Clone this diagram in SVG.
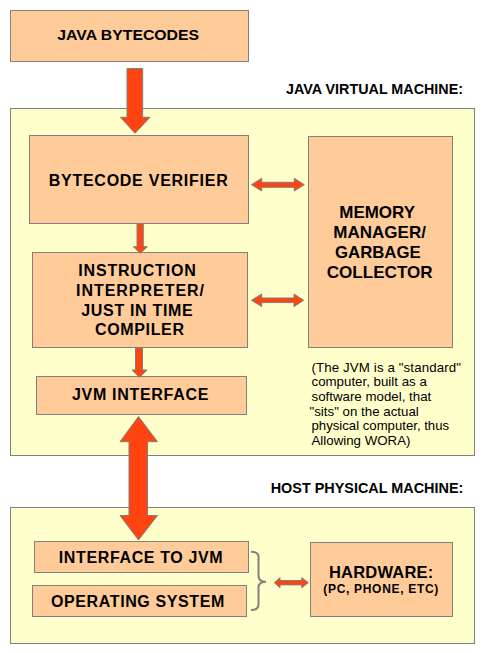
<svg xmlns="http://www.w3.org/2000/svg" width="484" height="653" viewBox="0 0 484 653">
<style>
.outer{fill:#FFFFCC;stroke:#808080;stroke-width:1}
.box{fill:#FFCC99;stroke:#808080;stroke-width:1}
.arr{fill:#FF4411;stroke:#7F7F7F;stroke-width:1;stroke-linejoin:miter}
.brace{fill:none;stroke:#808080;stroke-width:2}
text{font-family:"Liberation Sans",Arial,sans-serif;fill:#000}
.b{font-weight:bold;font-size:16px}
.h{font-weight:bold;font-size:14px}
.m{font-weight:bold;font-size:17px}
.n{font-size:13.3px}
.s{font-weight:bold;font-size:12px}
</style>
<rect width="484" height="653" fill="#FFFFFF"/>
<g id="jvm-container">
<rect class="outer" x="10.5" y="108.5" width="464" height="347"/>
<text class="h" x="286" y="93.5" textLength="177" lengthAdjust="spacingAndGlyphs">JAVA VIRTUAL MACHINE:</text>
</g>
<g id="host-container">
<rect class="outer" x="10.5" y="507.5" width="464" height="136"/>
<text class="h" x="270.7" y="493.3" textLength="192.6" lengthAdjust="spacingAndGlyphs">HOST PHYSICAL MACHINE:</text>
</g>
<g id="java-bytecodes">
<rect class="box" x="10.5" y="10.5" width="238" height="51"/>
<text class="b" style="font-size:15px" x="57.3" y="40.3" textLength="141.7" lengthAdjust="spacingAndGlyphs">JAVA BYTECODES</text>
</g>
<g id="bytecode-verifier">
<rect class="box" x="29.5" y="135.5" width="219" height="88"/>
<text class="b" x="48.7" y="185.7" textLength="179" lengthAdjust="spacing">BYTECODE VERIFIER</text>
</g>
<g id="memory-manager">
<rect class="box" x="308.5" y="136.5" width="144" height="211"/>
<text class="m" x="339.3" y="218.3" textLength="75.7" lengthAdjust="spacingAndGlyphs">MEMORY</text>
<text class="m" x="333.3" y="238.3" textLength="92.7" lengthAdjust="spacingAndGlyphs">MANAGER/</text>
<text class="m" x="335" y="258.3" textLength="85.7" lengthAdjust="spacingAndGlyphs">GARBAGE</text>
<text class="m" x="326.7" y="277.7" textLength="106" lengthAdjust="spacingAndGlyphs">COLLECTOR</text>
</g>
<g id="instruction-interpreter">
<rect class="box" x="32.5" y="252.5" width="215" height="95"/>
<text class="b" x="78.3" y="275.7" textLength="117.4" lengthAdjust="spacing">INSTRUCTION</text>
<text class="b" x="76" y="296" textLength="128" lengthAdjust="spacing">INTERPRETER/</text>
<text class="b" x="81.3" y="315.7" textLength="111.4" lengthAdjust="spacing">JUST IN TIME</text>
<text class="b" x="95" y="335" textLength="89" lengthAdjust="spacing">COMPILER</text>
</g>
<g id="jvm-interface">
<rect class="box" x="36.5" y="376.5" width="210" height="38"/>
<text class="b" x="72" y="400.3" textLength="136.3" lengthAdjust="spacing">JVM INTERFACE</text>
</g>
<g id="jvm-note">
<text class="n" x="311.5" y="371.7" textLength="149.5" lengthAdjust="spacing">(The JVM is a  "standard"</text>
<text class="n" x="311.5" y="386.3">computer, built as a</text>
<text class="n" x="311.5" y="400.8">software model, that</text>
<text class="n" x="309.5" y="415.5">"sits" on the actual</text>
<text class="n" x="311.5" y="430" textLength="137.6" lengthAdjust="spacingAndGlyphs">physical computer, thus</text>
<text class="n" x="311.5" y="444.5">Allowing WORA)</text>
</g>
<g id="interface-to-jvm">
<rect class="box" x="34.5" y="541.5" width="214" height="31"/>
<text class="b" x="58.7" y="562.7" textLength="164" lengthAdjust="spacing">INTERFACE TO JVM</text>
</g>
<g id="operating-system">
<rect class="box" x="32.5" y="585.5" width="214" height="31"/>
<text class="b" x="51" y="606.7" textLength="173.3" lengthAdjust="spacing">OPERATING SYSTEM</text>
</g>
<g id="hardware">
<rect class="box" x="310.5" y="542.5" width="142" height="74"/>
<text class="b" style="font-size:16.5px" x="329" y="578.3" textLength="104.3" lengthAdjust="spacing">HARDWARE:</text>
<text class="s" x="323.3" y="593.3" textLength="115" lengthAdjust="spacing">(PC, PHONE, ETC)</text>
</g>
<g id="connectors">
<path class="arr" d="M127,68.5 H142.7 V117.3 H150 L135,133.3 L120.5,117.3 H127 Z"/>
<path class="arr" d="M137,224 H143.3 V246.7 H147.3 L140.3,253.3 L133.3,246.7 H137 Z"/>
<path class="arr" d="M135.5,348 H142.5 V370 H147 L139.5,377.3 L132,370 H135.5 Z"/>
<path class="arr" d="M251.5,184.7 L261.7,178.3 V182.3 H294.3 V178.3 L304.3,184.7 L294.3,191 V187.3 H261.7 V191 Z"/>
<path class="arr" d="M251.5,300.3 L261.7,294 V298 H294 V294 L303.7,300.3 L294,306.6 V302.6 H261.7 V306.6 Z"/>
<path class="arr" d="M138.5,416.5 L157.5,441.7 H147.5 V515.5 H157.5 L138.5,540 L120,515.5 H129 V441.7 H120 Z"/>
<path class="arr" d="M274.3,582.7 L280,577.7 V580.5 H301.7 V577.7 L308.3,582.7 L301.7,587.7 V584.9 H280 V587.7 Z"/>
<path class="brace" d="M251,551.7 C256,551.7 258.5,553 258.5,557 V576 C258.5,579.5 261,581.7 266,581.7 C261,581.7 258.5,584 258.5,587.5 V604 C258.5,608 256,610 251,610"/>
</g>
</svg>
